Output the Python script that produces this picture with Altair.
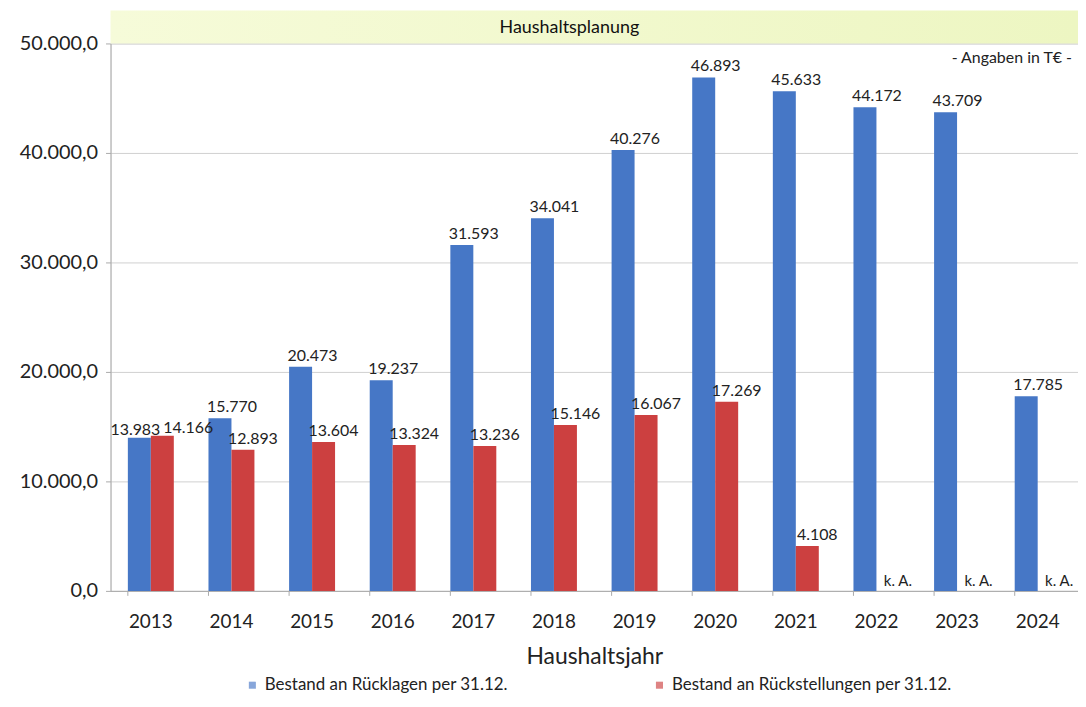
import altair as alt
import pandas as pd

years = ["2013", "2014", "2015", "2016", "2017", "2018", "2019", "2020", "2021", "2022", "2023", "2024"]
ruecklagen = [13983, 15770, 20473, 19237, 31593, 34041, 40276, 46893, 45633, 44172, 43709, 17785]
rueckstellungen = [14166, 12893, 13604, 13324, 13236, 15146, 16067, 17269, 4108, None, None, None]
series = ["Bestand an Rücklagen per 31.12.", "Bestand an Rückstellungen per 31.12."]
colors = ["#4677c6", "#cc4040"]
title_text = "Haushaltsplanung"
unit_text = "- Angaben in T€ -"
na_text = "k. A."


def de(v):
    return f"{v:,}".replace(",", ".")


rows = []
for i, y in enumerate(years):
    for s, vals in zip(series, [ruecklagen, rueckstellungen]):
        v = vals[i]
        rows.append({"Jahr": y, "Serie": s, "Wert": v,
                     "Label": de(v) if v is not None else na_text})
df = pd.DataFrame(rows)

W, H = 972, 550
FONT = "Lato"

x_enc = alt.X("Jahr:N", sort=years,
              scale=alt.Scale(paddingInner=0.43, paddingOuter=0.215),
              axis=alt.Axis(title="Haushaltsjahr", labelAngle=0, labelFontSize=19,
                            labelColor="#222", ticks=False, labelPadding=22,
                            titleFontSize=23, titleFontWeight="normal", titleColor="#222",
                            titlePadding=14, domainColor="#aaa", labelFont=FONT, titleFont=FONT))
xo = alt.XOffset("Serie:N", sort=series, scale=alt.Scale(paddingInner=0, paddingOuter=0))
y_enc = alt.Y("Wert:Q", scale=alt.Scale(domain=[0, 50000], nice=False),
              axis=alt.Axis(title=None, values=[0, 10000, 20000, 30000, 40000, 50000],
                            labelExpr="datum.value == 0 ? '0,0' : (datum.value/1000) + '.000,0'",
                            labelFontSize=20, labelColor="#222", labelPadding=8, tickSize=5,
                            tickColor="#aaa", domainColor="#aaa", gridColor="#d0d0d0",
                            labelFont=FONT))

base = alt.Chart(df)

bars = base.mark_bar().encode(
    x=x_enc, xOffset=xo, y=y_enc,
    color=alt.Color("Serie:N", sort=series,
                    scale=alt.Scale(domain=series, range=colors),
                    legend=alt.Legend(title=None, orient="none", direction="horizontal",
                                      legendX=134, legendY=636, columns=2, columnPadding=143,
                                      labelFontSize=17, labelColor="#222", labelFont=FONT,
                                      symbolType="square", symbolSize=50, symbolOpacity=0.65,
                                      labelLimit=400)),
).transform_filter("isValid(datum.Wert)")

lbl_common = dict(fontSize=16, font=FONT, color="#222", baseline="bottom")

labels_blue = base.mark_text(dx=12, dy=-3, **lbl_common).encode(
    x=alt.X("Jahr:N", sort=years), xOffset=xo, y="Wert:Q", text="Label:N"
).transform_filter(f"datum.Serie == '{series[0]}' && datum.Jahr != '2013'")

labels_blue13 = base.mark_text(dx=-4, dy=0, **lbl_common).encode(
    x=alt.X("Jahr:N", sort=years), xOffset=xo, y="Wert:Q", text="Label:N"
).transform_filter(f"datum.Serie == '{series[0]}' && datum.Jahr == '2013'")

labels_red = base.mark_text(dx=10, dy=-3, **lbl_common).encode(
    x=alt.X("Jahr:N", sort=years), xOffset=xo, y="Wert:Q", text="Label:N"
).transform_filter(f"datum.Serie == '{series[1]}' && isValid(datum.Wert) && datum.Jahr != '2013'")

labels_red13 = base.mark_text(dx=26, dy=0, **lbl_common).encode(
    x=alt.X("Jahr:N", sort=years), xOffset=xo, y="Wert:Q", text="Label:N"
).transform_filter(f"datum.Serie == '{series[1]}' && datum.Jahr == '2013'")

labels_na = base.mark_text(dx=10, dy=-2, fontSize=15, font=FONT, color="#222",
                           baseline="bottom").encode(
    x=alt.X("Jahr:N", sort=years), xOffset=xo, y=alt.value(H), text="Label:N"
).transform_filter("!isValid(datum.Wert)")

xticks = alt.Chart(pd.DataFrame({"Jahr": years})).mark_rule(color="#aaa").encode(
    x=alt.X("Jahr:N", sort=years, bandPosition=0),
    y=alt.value(H), y2=alt.value(H + 5),
)

band_df = pd.DataFrame({"t": [title_text]})
band = alt.Chart(band_df).mark_rect(
    color=alt.Gradient(gradient="linear", x1=0, x2=1, y1=0, y2=0,
                       stops=[alt.GradientStop(color="#f6fbd9", offset=0),
                              alt.GradientStop(color="#edf6c2", offset=1)])
).encode(x=alt.value(0), x2=alt.value(W), y=alt.value(-33), y2=alt.value(0))

band_text = alt.Chart(band_df).mark_text(fontSize=18, font=FONT, color="#111",
                                         baseline="middle").encode(
    x=alt.value(W / 2 - 25), y=alt.value(-16), text="t:N")

unit = alt.Chart(pd.DataFrame({"t": [unit_text]})).mark_text(
    fontSize=16, font=FONT, color="#222", align="right", baseline="middle"
).encode(x=alt.value(W - 6), y=alt.value(15), text="t:N")

chart = alt.layer(band, band_text, unit, bars, labels_blue, labels_blue13, labels_red,
                  labels_red13, labels_na, xticks).properties(
    width=W, height=H,
    autosize=alt.AutoSizeParams(type="none"),
    padding={"left": 103, "top": 34, "right": 0, "bottom": 107},
).configure_view(stroke=None).configure(background="white")

chart.save("out.html", embed_options={"renderer": "svg", "actions": False})
